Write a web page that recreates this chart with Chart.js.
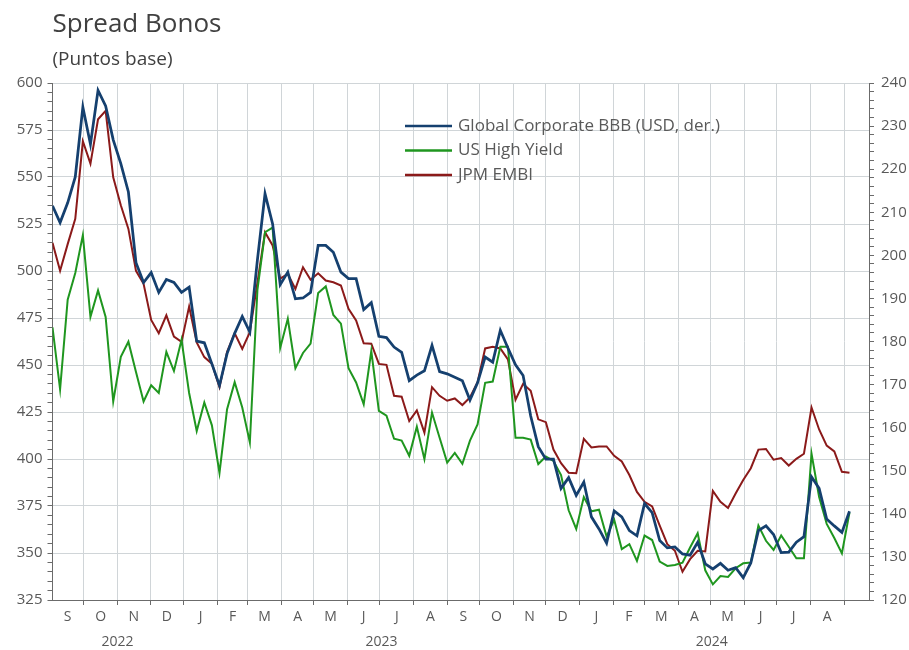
<!DOCTYPE html>
<html lang="es">
<head>
<meta charset="UTF-8">
<title>Spread Bonos</title>
<script src="https://cdn.jsdelivr.net/npm/chart.js"></script>
<style>
  html, body { margin: 0; padding: 0; background: #fff; }
  .wrap { width: 909px; height: 650px; position: relative; }
</style>
</head>
<body>
<div class="wrap"><canvas id="spread"></canvas></div>
<script>
// datos semanales (viernes), desde el 2 sep 2022
const bbb = [211.5, 207.6, 212.2, 218.2, 234.4, 225.8, 238.3, 234.7, 226.8, 221.3,
  214.7, 198.3, 193.7, 196, 191.4, 194.4, 193.7, 191.4, 192.6, 180.1,
  179.7, 174.8, 169.8, 177.2, 181.9, 185.8, 182.2, 199, 214.3, 207.3,
  193.2, 196.1, 189.9, 190.1, 191.4, 202.3, 202.3, 200.7, 196.1, 194.6,
  194.6, 187.4, 189, 181.2, 180.9, 178.7, 177.5, 170.9, 172.2, 173.2,
  179.1, 173, 172.5, 171.7, 170.9, 166.4, 170.4, 176.4, 175.2, 182.6,
  178.5, 174.6, 172.1, 162.7, 155.6, 152.7, 152.7, 145.9, 148.4, 144.3,
  147.4, 139.3, 136.5, 133.2, 140.7, 139.3, 136.1, 134.9, 142.4, 140.3,
  133.8, 132.1, 132.3, 130.7, 130.4, 133.4, 128.4, 127.2, 128.5, 126.9,
  127.5, 125.2, 128.6, 136.1, 137.2, 135.2, 131, 131.1, 133.4, 134.7,
  148.6, 145.9, 138.8, 137.2, 135.7, 140.6];

const highYield = [470, 437.1, 484.7, 498.9, 519.1, 475.6, 489.7, 475.6, 430.6, 454.3,
  462.4, 446.3, 430.6, 439.2, 435.1, 457, 446.8, 463.4, 435.1, 414.9,
  430.1, 417.9, 392.6, 426.5, 440.9, 427.4, 408.8, 490, 520.6, 523.1,
  459.1, 474.6, 448.3, 456.4, 461.4, 488.3, 491.8, 476.6, 472, 448.3,
  440.7, 429.1, 457.4, 425.6, 423, 410.8, 409.8, 401.7, 417.2, 399.9,
  424.7, 411.3, 398.1, 403.2, 397.4, 409.8, 418.4, 440.5, 441.2, 459.7,
  459.7, 411.3, 411.3, 410.3, 397.3, 401.3, 399, 391.5, 372.7, 362.8,
  379.8, 372.2, 373, 358.7, 367.7, 352.1, 354.7, 345.8, 359.3, 356.9,
  345.4, 343.1, 343.6, 344.9, 352.9, 360.5, 340.8, 333.3, 337.7, 337.3,
  341.9, 344.5, 344.9, 364.6, 356.5, 351.6, 359.3, 353.3, 347.2, 347.2,
  402.8, 379.8, 365.5, 358, 349.8, 371.5];

const embi = [515, 500.1, 514.3, 527.8, 569, 557.1, 580.7, 585.2, 549.8, 535,
  522.4, 500.1, 493.2, 474, 466.9, 476.4, 465.1, 462.3, 481.1, 462,
  454.2, 450.7, 438.2, 457, 466.9, 458.6, 467.5, 494, 520.6, 513.6,
  495.9, 498.5, 490.5, 502, 495.3, 498.8, 494.9, 494, 492.3, 479.9,
  473.7, 461.6, 461.3, 450.6, 450.1, 433.6, 433.1, 420.2, 425.9, 414,
  438.2, 433.6, 431, 432.2, 428.7, 432.8, 440.9, 458.8, 459.7, 458.8,
  453, 431.5, 440, 436.3, 421.1, 419.6, 405, 397.8, 392.7, 392.4,
  410.7, 406.1, 406.7, 406.7, 401.7, 398.7, 391.5, 382.5, 377.2, 374.8,
  364.6, 354.7, 351.2, 340, 346.7, 351.2, 350.8, 383, 377.2, 373.9,
  381.6, 388.8, 395.1, 405, 405.3, 399.6, 400.5, 396.5, 400.1, 402.8,
  427.4, 415.7, 407.1, 404, 393.2, 392.7];

const seriesNames = ['Global Corporate BBB (USD, der.)', 'US High Yield', 'JPM EMBI'];
const monthLabels = ['S', 'O', 'N', 'D', 'J', 'F', 'M', 'A', 'M', 'J', 'J', 'A',
  'S', 'O', 'N', 'D', 'J', 'F', 'M', 'A', 'M', 'J', 'J', 'A'];
const yearLabels = ['2022', '2023', '2024'];

// eje x en dias desde el 1 sep 2022
const DAY = 86400000;
const origin = Date.UTC(2022, 8, 1);
const dayOf = (y, m, d) => (Date.UTC(y, m, d) - origin) / DAY;
const firstWeek = dayOf(2022, 8, 2);
const xMin = firstWeek;
const xMax = dayOf(2024, 8, 24);

const monthTicks = [];
monthLabels.forEach((lab, k) => {
  const start = dayOf(2022, 8 + k, 1);
  const end = dayOf(2022, 9 + k, 1);
  monthTicks.push({ value: (start + end) / 2, lab: lab });
  monthTicks.push({ value: end, edge: true });
});
const yearBounds = [dayOf(2022, 8, 1), dayOf(2023, 0, 1), dayOf(2024, 0, 1), dayOf(2024, 8, 1)];
const yearTicks = yearLabels.map((lab, k) => ({ value: (yearBounds[k] + yearBounds[k + 1]) / 2, lab: lab }));

const stepTicks = (min, max, step) => {
  const out = [];
  for (let v = min; v <= max + 1e-9; v += step) out.push({ value: v });
  return out;
};

const toPoints = arr => arr.map((v, i) => ({ x: firstWeek + 7 * i, y: v }));

const gridColor = '#d0d5d8';
const axisColor = '#6b6b6b';
const textColor = '#595959';

Chart.defaults.font.family = "'Open Sans', sans-serif";
Chart.defaults.color = textColor;

const insideLegend = {
  id: 'insideLegend',
  afterDraw(chart) {
    const ctx = chart.ctx;
    ctx.save();
    ctx.font = "17px 'Open Sans', sans-serif";
    ctx.textBaseline = 'middle';
    chart.data.datasets.forEach((ds, i) => {
      const y = 126 + i * 24.5;
      ctx.strokeStyle = ds.borderColor;
      ctx.lineWidth = 2.5;
      ctx.beginPath();
      ctx.moveTo(405, y);
      ctx.lineTo(452, y);
      ctx.stroke();
      ctx.fillStyle = textColor;
      ctx.fillText(ds.label, 458, y);
    });
    ctx.restore();
  }
};

new Chart(document.getElementById('spread'), {
  type: 'line',
  data: {
    datasets: [
      { label: seriesNames[0], data: toPoints(bbb), yAxisID: 'y1', borderColor: '#15406f', borderWidth: 2.75 },
      { label: seriesNames[1], data: toPoints(highYield), yAxisID: 'y', borderColor: '#1f961f', borderWidth: 2 },
      { label: seriesNames[2], data: toPoints(embi), yAxisID: 'y', borderColor: '#8b1a1a', borderWidth: 2 }
    ]
  },
  options: {
    responsive: true,
    maintainAspectRatio: false,
    animation: false,
    elements: { point: { radius: 0 }, line: { tension: 0 } },
    layout: { padding: 0 },
    plugins: {
      legend: { display: false },
      tooltip: { enabled: false },
      title: {
        display: true, text: 'Spread Bonos', align: 'start', fullSize: false,
        color: '#404040', font: { size: 26, weight: 'normal' }, padding: { top: 9, bottom: 3 }
      },
      subtitle: {
        display: true, text: '(Puntos base)', align: 'start', fullSize: false,
        color: '#404040', font: { size: 19, weight: 'normal' }, padding: { top: 5, bottom: 12 }
      }
    },
    scales: {
      x: {
        type: 'linear', min: xMin, max: xMax,
        afterBuildTicks: s => { s.ticks = monthTicks.map(t => ({ ...t })); },
        afterFit: s => { s.height = 26; },
        grid: {
          color: c => (c.tick && c.tick.edge ? gridColor : 'transparent'),
          tickColor: c => (c.tick && c.tick.edge ? axisColor : 'transparent'),
          tickLength: 5
        },
        border: { color: axisColor },
        ticks: {
          autoSkip: false, maxRotation: 0, padding: 4, font: { size: 14 },
          callback: (v, i, ts) => ts[i].lab || ''
        }
      },
      x2: {
        type: 'linear', position: 'bottom', min: xMin, max: xMax,
        afterBuildTicks: s => { s.ticks = yearTicks.map(t => ({ ...t })); },
        afterFit: s => { s.height = 24; },
        grid: { display: false },
        border: { display: false },
        ticks: {
          autoSkip: false, maxRotation: 0, padding: 0, font: { size: 14 },
          callback: (v, i, ts) => ts[i].lab || ''
        }
      },
      y: {
        position: 'left', min: 325, max: 600,
        afterBuildTicks: s => { s.ticks = stepTicks(325, 600, 5); },
        afterFit: s => { s.width = 52.5; },
        grid: {
          color: c => (c.tick && c.tick.value % 25 === 0 ? gridColor : 'transparent'),
          tickColor: axisColor, tickLength: 5
        },
        border: { color: axisColor },
        ticks: { autoSkip: false, padding: 5, font: { size: 15 },
          callback: v => (v % 25 === 0 ? v : '') }
      },
      y1: {
        position: 'right', min: 120, max: 240,
        afterBuildTicks: s => { s.ticks = stepTicks(120, 240, 2); },
        afterFit: s => { s.width = 40; },
        grid: { drawOnChartArea: false, tickColor: axisColor, tickLength: 5 },
        border: { color: axisColor },
        ticks: { autoSkip: false, padding: 7, font: { size: 15 },
          callback: v => (v % 10 === 0 ? v : '') }
      }
    }
  },
  plugins: [insideLegend]
});
</script>
</body>
</html>
